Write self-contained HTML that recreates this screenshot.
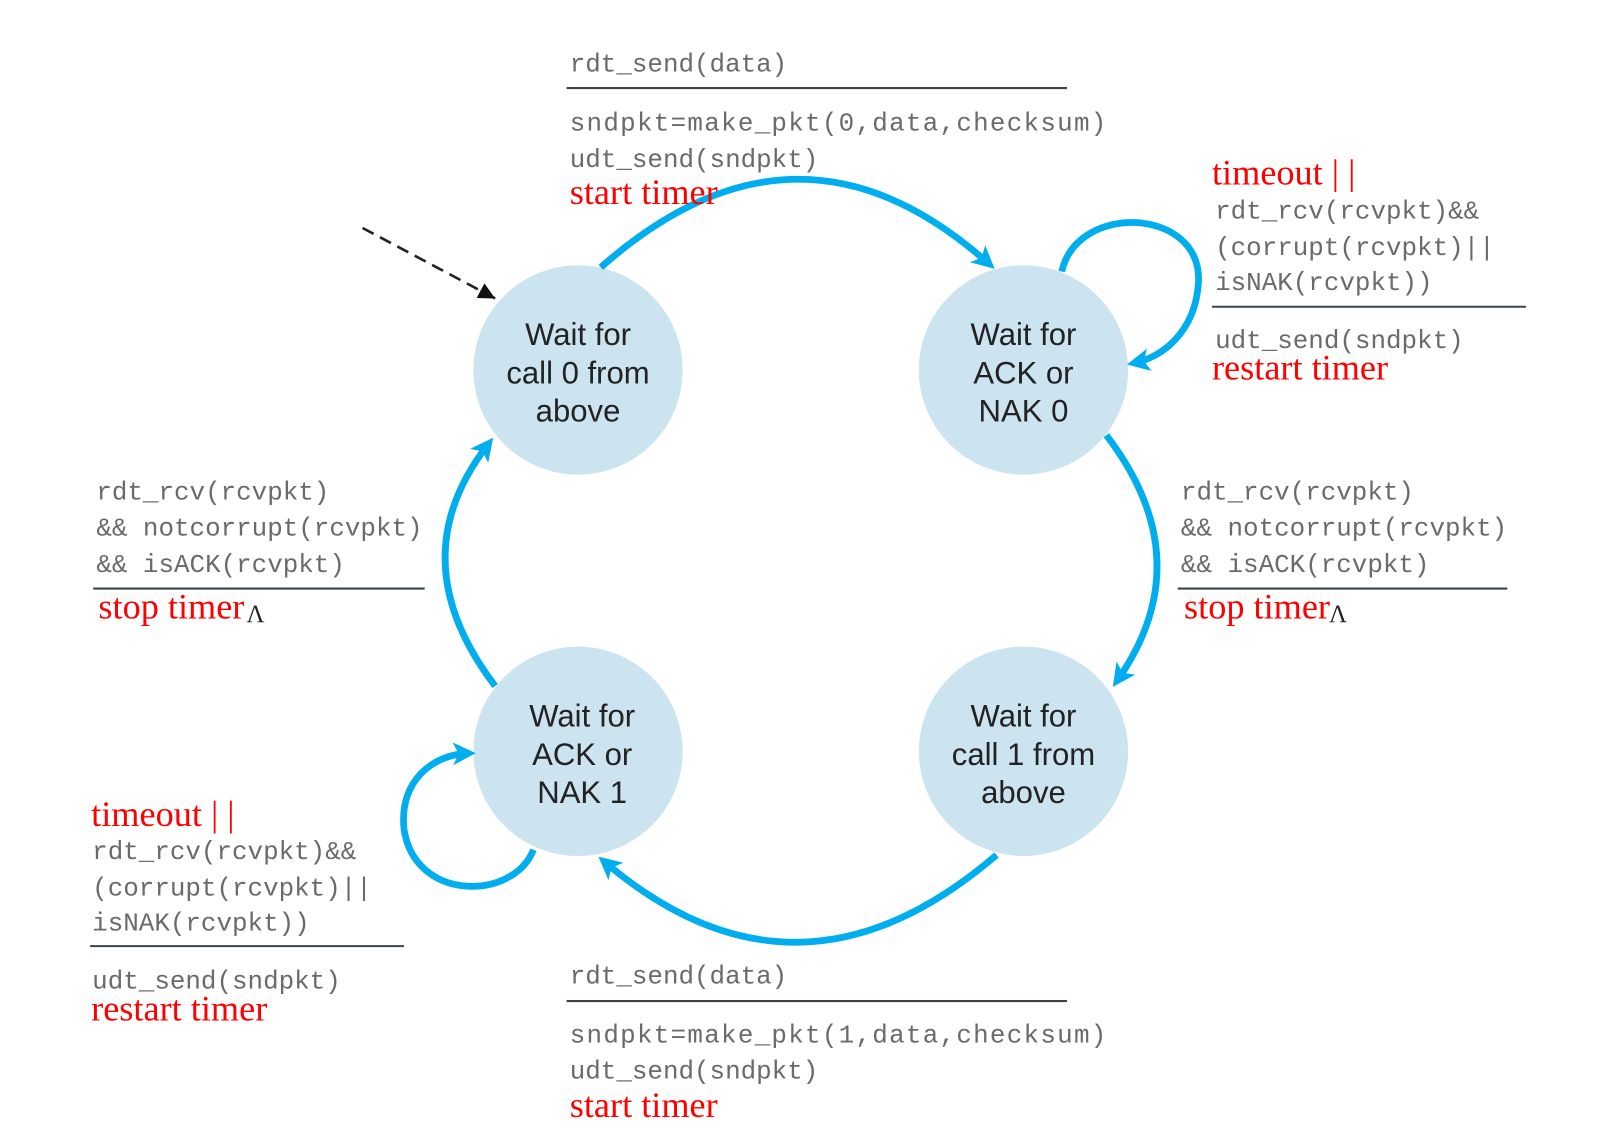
<!DOCTYPE html>
<html><head><meta charset="utf-8"><style>
html,body{margin:0;padding:0;background:#fff;}
svg{display:block;}
.m{font-family:"Liberation Mono",monospace;font-size:25px;fill:#6a6a6a;}
.r{font-family:"Liberation Serif",serif;font-size:35px;fill:#ff0000;}
.s{font-family:"Liberation Sans",sans-serif;font-size:30px;fill:#222;text-anchor:middle;}
.a{fill:none;stroke:#00aeef;stroke-width:6.5;}
</style></head><body>
<svg width="1616" height="1143" viewBox="0 0 1560 1103" preserveAspectRatio="none" xmlns="http://www.w3.org/2000/svg">
<defs>
<marker id="ar" markerWidth="3.4" markerHeight="3.4" refX="5" refY="4" orient="auto" markerUnits="strokeWidth" viewBox="0 0 8 8">
<path d="M0,0 L8,4 L0,8 L2,4 Z" fill="#00aeef"/></marker>
<marker id="bk" markerWidth="16" markerHeight="16" refX="12" refY="6" orient="auto" markerUnits="userSpaceOnUse" viewBox="0 0 12 12">
<path d="M0,0 L12,6 L0,12 Z" fill="#111"/></marker>
</defs>
<circle cx="558" cy="357" r="101" fill="#cce3f0"/>
<circle cx="988" cy="357" r="101" fill="#cce3f0"/>
<circle cx="558" cy="725" r="101" fill="#cce3f0"/>
<circle cx="988" cy="725" r="101" fill="#cce3f0"/>
<text class="s" x="558" y="333">Wait for</text>
<text class="s" x="558" y="370">call 0 from</text>
<text class="s" x="558" y="407">above</text>
<text class="s" x="988" y="333">Wait for</text>
<text class="s" x="988" y="370">ACK or</text>
<text class="s" x="988" y="407">NAK 0</text>
<text class="s" x="562" y="701">Wait for</text>
<text class="s" x="562" y="738">ACK or</text>
<text class="s" x="562" y="775">NAK 1</text>
<text class="s" x="988" y="701">Wait for</text>
<text class="s" x="988" y="738">call 1 from</text>
<text class="s" x="988" y="775">above</text>
<path class="a" d="M580,258 Q770,90 954,254" marker-end="url(#ar)"/>
<path class="a" d="M1068,420 Q1160,540 1079,656" marker-end="url(#ar)"/>
<path class="a" d="M962,825 Q770,990 584,832" marker-end="url(#ar)"/>
<path class="a" d="M478,662 Q385,540 471,429" marker-end="url(#ar)"/>
<path class="a" d="M1025,262 C1040,195 1160,200 1157,272 C1154,322 1120,345 1096,350" marker-end="url(#ar)"/>
<path class="a" d="M515,820 C495,870 400,870 390,800 C385,752 420,728 451,727" marker-end="url(#ar)"/>
<path d="M350,220 L478,288" stroke="#222" stroke-width="2.5" stroke-dasharray="12,7" fill="none" marker-end="url(#bk)"/>
<text class="m" x="550" y="69">rdt_send(data)</text>
<line x1="547" y1="85" x2="1030" y2="85" stroke="#3a4450" stroke-width="2"/>
<text class="m" x="550" y="126" textLength="518">sndpkt=make_pkt(0,data,checksum)</text>
<text class="m" x="550" y="161">udt_send(sndpkt)</text>
<text class="r" x="550" y="197">start timer</text>
<text class="r" x="1170" y="178">timeout | |</text>
<text class="m" x="1173" y="211">rdt_rcv(rcvpkt)&amp;&amp;</text>
<text class="m" x="1173" y="246">(corrupt(rcvpkt)||</text>
<text class="m" x="1173" y="280">isNAK(rcvpkt))</text>
<line x1="1170" y1="296" x2="1473" y2="296" stroke="#3a4450" stroke-width="2"/>
<text class="m" x="1173" y="336">udt_send(sndpkt)</text>
<text class="r" x="1170" y="366">restart timer</text>
<text class="m" x="1140" y="482">rdt_rcv(rcvpkt)</text>
<text class="m" x="1140" y="517">&amp;&amp; notcorrupt(rcvpkt)</text>
<text class="m" x="1140" y="552">&amp;&amp; isACK(rcvpkt)</text>
<line x1="1137" y1="568" x2="1455" y2="568" stroke="#3a4450" stroke-width="2"/>
<text class="r" x="1143" y="597">stop timer</text>
<text x="1283" y="600" font-family="Liberation Serif,serif" font-size="24" fill="#222">Λ</text>
<text class="m" x="93" y="482">rdt_rcv(rcvpkt)</text>
<text class="m" x="93" y="517">&amp;&amp; notcorrupt(rcvpkt)</text>
<text class="m" x="93" y="552">&amp;&amp; isACK(rcvpkt)</text>
<line x1="90" y1="568" x2="410" y2="568" stroke="#3a4450" stroke-width="2"/>
<text class="r" x="95" y="597">stop timer</text>
<text x="238" y="600" font-family="Liberation Serif,serif" font-size="24" fill="#222">Λ</text>
<text class="r" x="88" y="797">timeout | |</text>
<text class="m" x="89" y="829">rdt_rcv(rcvpkt)&amp;&amp;</text>
<text class="m" x="89" y="864">(corrupt(rcvpkt)||</text>
<text class="m" x="89" y="898">isNAK(rcvpkt))</text>
<line x1="87" y1="913" x2="390" y2="913" stroke="#3a4450" stroke-width="2"/>
<text class="m" x="89" y="954">udt_send(sndpkt)</text>
<text class="r" x="88" y="985">restart timer</text>
<text class="m" x="550" y="949">rdt_send(data)</text>
<line x1="547" y1="966" x2="1030" y2="966" stroke="#3a4450" stroke-width="2"/>
<text class="m" x="550" y="1006" textLength="518">sndpkt=make_pkt(1,data,checksum)</text>
<text class="m" x="550" y="1041">udt_send(sndpkt)</text>
<text class="r" x="550" y="1078">start timer</text>
</svg>
</body></html>
